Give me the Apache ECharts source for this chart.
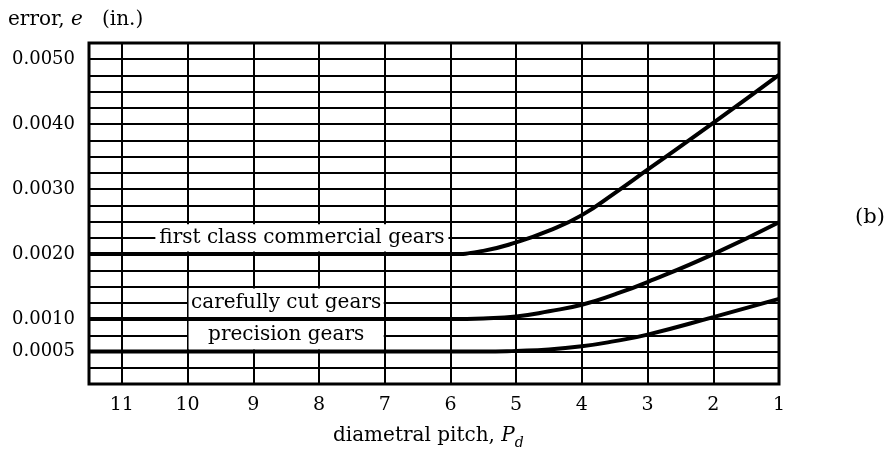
<!DOCTYPE html>
<html>
<head>
<meta charset="utf-8">
<script src="https://cdn.jsdelivr.net/npm/echarts@6/dist/echarts.min.js"></script>
<style>
  html, body { margin: 0; padding: 0; background: #fff; }
  #chart { width: 896px; height: 457px; }
</style>
</head>
<body>
<div id="chart"></div>
<script>
// Gear tooth error versus diametral pitch, three quality classes
const pitch = [1, 2, 3, 3.5, 4, 4.5, 5, 5.5, 6, 7, 8, 9, 10, 11, 11.5];
const firstClass = [0.00476, 0.00402, 0.00330, 0.00294, 0.00260, 0.00236, 0.00218, 0.00205, 0.0020, 0.0020, 0.0020, 0.0020, 0.0020, 0.0020, 0.0020];
const carefullyCut = [0.00249, 0.00200, 0.00157, 0.00138, 0.00122, 0.00112, 0.00104, 0.00101, 0.0010, 0.0010, 0.0010, 0.0010, 0.0010, 0.0010, 0.0010];
const precision = [0.00131, 0.00103, 0.00076, 0.00066, 0.00058, 0.00053, 0.00051, 0.0005, 0.0005, 0.0005, 0.0005, 0.0005, 0.0005, 0.0005, 0.0005];

const seriesNames = ['first class commercial gears', 'carefully cut gears', 'precision gears'];
const xTickLabels = ['1', '2', '3', '4', '5', '6', '7', '8', '9', '10', '11'];
const yTickLabels = ['0.0005', '0.0010', '0.0020', '0.0030', '0.0040', '0.0050'];

const FONT = 'DejaVu Serif';
const INK = '#000';

function pairs(ys) {
  return pitch.map((x, i) => [x, ys[i]]);
}

function curve(name, ys, box) {
  return {
    name: name,
    type: 'line',
    data: pairs(ys),
    smooth: 0.5,
    symbol: 'none',
    lineStyle: { color: INK, width: 4 },
    z: 3,
    markArea: {
      silent: true,
      itemStyle: { color: '#fff' },
      label: {
        show: true,
        position: 'inside',
        color: INK,
        fontFamily: FONT,
        fontSize: 20
      },
      data: [[
        { name: name, xAxis: box[0], yAxis: box[1] },
        { xAxis: box[2], yAxis: box[3] }
      ]]
    }
  };
}

const chart = echarts.init(document.getElementById('chart'), null, { renderer: 'canvas' });

chart.setOption({
  backgroundColor: '#fff',
  animation: false,
  grid: {
    left: 89, right: 117, top: 43, bottom: 73,
    show: true,
    borderColor: INK,
    borderWidth: 3,
    backgroundColor: 'transparent'
  },
  xAxis: {
    type: 'value',
    min: 1, max: 11.5, interval: 1,
    inverse: true,
    axisLine: { show: false },
    axisTick: { show: false },
    splitLine: { show: true, lineStyle: { color: INK, width: 2 } },
    axisLabel: {
      color: INK, fontFamily: FONT, fontSize: 19, margin: 12,
      formatter: v => (xTickLabels.includes(String(v)) ? String(v) : '')
    }
  },
  yAxis: {
    type: 'value',
    min: 0, max: 0.00525, interval: 0.00025,
    axisLine: { show: false },
    axisTick: { show: false },
    splitLine: { show: true, lineStyle: { color: INK, width: 2 } },
    axisLabel: {
      color: INK, fontFamily: FONT, fontSize: 18, margin: 14,
      formatter: v => {
        const s = v.toFixed(4);
        return yTickLabels.includes(s) ? s : '';
      }
    }
  },
  series: [
    curve(seriesNames[0], firstClass, [10.49, 0.00204, 6.03, 0.00246]),
    curve(seriesNames[1], carefullyCut, [9.985, 0.00103, 7.015, 0.00147]),
    curve(seriesNames[2], precision, [9.985, 0.00053, 7.015, 0.00097])
  ],
  graphic: [
    {
      type: 'text',
      left: 8, top: 10,
      style: {
        text: '{r|error, }{i|e}{r|   (in.)}',
        rich: {
          r: { fontFamily: FONT, fontSize: 20, fill: INK },
          i: { fontFamily: FONT, fontSize: 20, fontStyle: 'italic', fill: INK }
        }
      }
    },
    {
      type: 'text',
      left: 333, top: 426,
      style: {
        text: '{r|diametral pitch, }{i|P}{s|d}',
        rich: {
          r: { fontFamily: FONT, fontSize: 20, fill: INK, lineHeight: 29 },
          i: { fontFamily: FONT, fontSize: 20, fontStyle: 'italic', fill: INK, lineHeight: 29 },
          s: { fontFamily: FONT, fontSize: 14, fontStyle: 'italic', fill: INK, lineHeight: 29, verticalAlign: 'bottom' }
        }
      }
    },
    {
      type: 'text',
      left: 855, top: 207,
      style: { text: '(b)', fontFamily: FONT, fontSize: 21, fill: INK }
    }
  ]
});
</script>
</body>
</html>
